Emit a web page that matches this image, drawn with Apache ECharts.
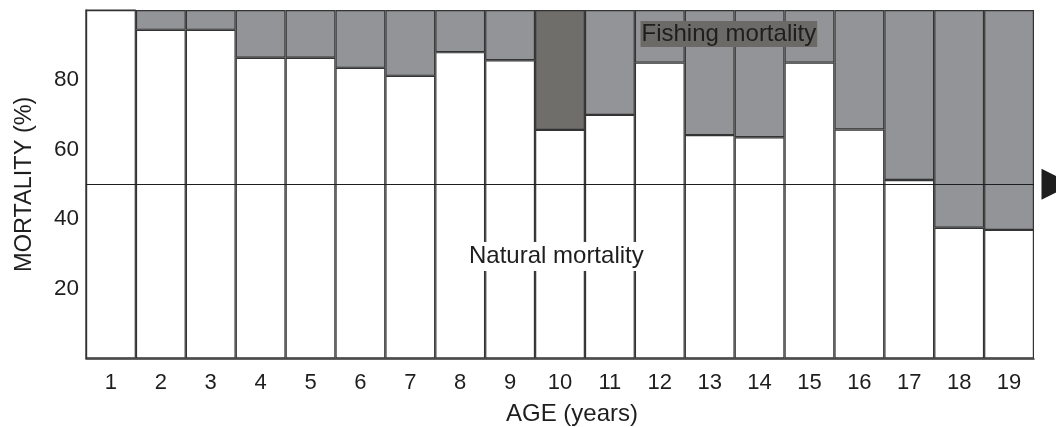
<!DOCTYPE html>
<html>
<head>
<meta charset="utf-8">
<script src="https://cdn.jsdelivr.net/npm/echarts@6/dist/echarts.min.js"></script>
<style>
html,body{margin:0;padding:0;background:#fff;}
#c{width:1056px;height:427px;}
</style>
</head>
<body>
<div id="c"></div>
<script>
// ---- data ----
const ages = ['1','2','3','4','5','6','7','8','9','10','11','12','13','14','15','16','17','18','19'];
const naturalMortality = [100, 94.3, 94.3, 86.3, 86.3, 83.4, 81.1, 87.9, 85.6, 65.6, 69.9, 84.9, 64.1, 63.5, 84.9, 65.7, 51.2, 37.5, 36.9];
const fishingMortality = [0, 5.7, 5.7, 13.7, 13.7, 16.6, 18.9, 12.1, 14.4, 34.4, 30.1, 15.1, 35.9, 36.5, 15.1, 34.3, 48.8, 62.5, 63.1];
const referenceLevel = 50;
const highlightAge = '10';
const yTicks = [0, 20, 40, 60, 80, 100];
const labelFishing = 'Fishing mortality';
const labelNatural = 'Natural mortality';
const xName = 'AGE (years)';
const yName = 'MORTALITY (%)';

const FONT = '"Liberation Sans", Arial, Helvetica, sans-serif';
const INK = '#1e1e1e';
const BORDER = '#333333';
const GREY = '#939498';
const DARK = '#6f6e6b';

const chart = echarts.init(document.getElementById('c'), null, {renderer: 'canvas'});

const fishingData = fishingMortality.map((v, i) => ages[i] === highlightAge
  ? {value: v, itemStyle: {color: DARK}}
  : v);

chart.setOption({
  animation: false,
  backgroundColor: '#fff',
  textStyle: {fontFamily: FONT},
  grid: {left: 86, right: 22, top: 10, bottom: 68.5, containLabel: false, outerBoundsMode: 'none'},
  xAxis: {
    type: 'category',
    data: ages,
    name: xName,
    nameLocation: 'middle',
    nameGap: 44,
    nameTextStyle: {fontSize: 24, color: INK, fontFamily: FONT, padding: [0, 0, 0, 24]},
    axisLine: {show: true, lineStyle: {color: BORDER, width: 1.5}},
    axisTick: {show: false},
    axisLabel: {fontSize: 22, color: INK, fontFamily: FONT, margin: 13},
    splitLine: {show: false}
  },
  yAxis: {
    type: 'value',
    min: yTicks[0],
    max: yTicks[yTicks.length - 1],
    interval: yTicks[1] - yTicks[0],
    name: yName,
    nameLocation: 'middle',
    nameGap: 49,
    nameTextStyle: {fontSize: 23.5, color: INK, fontFamily: FONT},
    axisLine: {show: true, lineStyle: {color: BORDER, width: 1.5}},
    axisTick: {show: true, inside: true, length: 7, lineStyle: {color: BORDER, width: 1.2}},
    axisLabel: {fontSize: 22.5, color: INK, fontFamily: FONT, margin: 7, showMinLabel: false, showMaxLabel: false},
    splitLine: {show: false}
  },
  series: [
    {
      name: 'Natural mortality',
      type: 'bar',
      stack: 'm',
      data: naturalMortality,
      barCategoryGap: 0,
      barWidth: '100%',
      itemStyle: {color: '#ffffff', borderColor: BORDER, borderWidth: 1.2},
      z: 2
    },
    {
      name: 'Fishing mortality',
      type: 'bar',
      stack: 'm',
      data: fishingData,
      barCategoryGap: 0,
      barWidth: '100%',
      itemStyle: {color: GREY, borderColor: BORDER, borderWidth: 1.2},
      z: 2,
      markLine: {
        silent: true,
        symbol: ['none', 'triangle'],
        symbolSize: [31, 31],
        symbolOffset: [0, [0, -23]],
        label: {show: false},
        lineStyle: {color: INK, width: 1.1, type: 'solid'},
        itemStyle: {color: INK},
        data: [{yAxis: referenceLevel}],
        z: 5
      }
    }
  ],
  graphic: [
    {
      type: 'text',
      left: 728.5 - 88, top: 21,
      z: 100,
      style: {
        text: labelFishing,
        font: '24px ' + FONT,
        fill: INK,
        backgroundColor: '#6b6a67',
        padding: [1, 1, 1, 1]
      }
    },
    {
      type: 'text',
      left: 466, top: 242,
      z: 100,
      style: {
        text: labelNatural,
        font: '24px ' + FONT,
        fill: INK,
        backgroundColor: '#ffffff',
        padding: [2, 3, 3, 3]
      }
    }
  ]
});
</script>
</body>
</html>
